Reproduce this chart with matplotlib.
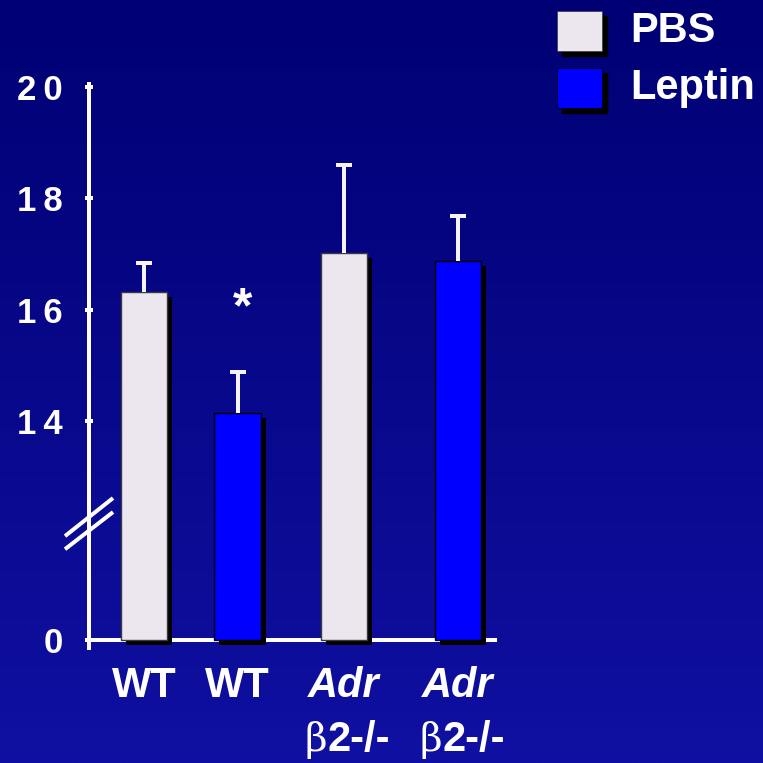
import numpy as np
import matplotlib
matplotlib.use("Agg")
import matplotlib.pyplot as plt
import matplotlib.patheffects as pe

# ---- data ----
groups = ["WT", "WT", "Adr", "Adr"]
genotype_line2 = ["", "", "2-/-", "2-/-"]
treatments = ["PBS", "Leptin", "PBS", "Leptin"]
values = [16.32, 14.14, 17.02, 16.87]
errors = [0.52, 0.74, 1.58, 0.81]
positions = [0.60, 1.61, 2.76, 4.00]
ytick_values = [14, 16, 18, 20]
axis_floor = 10.07          # broken axis: bottom of the axis is labelled 0

colors = {"PBS": "#ece6ee", "Leptin": "#0000ff"}
edges = {"PBS": "#3a3a3a", "Leptin": "#000000"}

W = H = 763
DPI = 100
fig = plt.figure(figsize=(W / DPI, H / DPI), dpi=DPI)

# background gradient
bg = fig.add_axes([0, 0, 1, 1], zorder=-10)
top = np.array([0x00, 0x00, 0x74]) / 255
bot = np.array([0x10, 0x10, 0xa2]) / 255
t = np.linspace(0, 1, 256)[:, None]
grad = top[None, :] * (1 - t) + bot[None, :] * t
bg.imshow(grad[:, None, :], aspect="auto", extent=[0, 1, 0, 1])
bg.set_axis_off()

def px2pt(p):
    return p * 72 / DPI

ax = fig.add_axes([89 / W, (H - 640) / H, (495 - 89) / W, (640 - 83.5) / H])
ax.set_facecolor("none")
ax.set_xlim(0, 4.4)
ax.set_ylim(axis_floor, 20.06)

shadow = [pe.SimplePatchShadow(offset=(px2pt(5), -px2pt(5)), shadow_rgbFace="black", alpha=1.0), pe.Normal()]
for x, v, tr in zip(positions, values, treatments):
    ax.bar(x, v - axis_floor, bottom=axis_floor, width=0.50, color=colors[tr],
           edgecolor=edges[tr], linewidth=1.0, clip_on=False, zorder=3,
           path_effects=shadow)

# upward error bars
err_col = "#f6f2fa"
tops = [v + e for v, e in zip(values, errors)]
ax.vlines(positions, values, tops, colors=err_col, linewidth=px2pt(4), zorder=4)
ax.plot(positions, tops, ls="none", marker="_", ms=px2pt(16), mew=px2pt(4),
        color=err_col, zorder=4)

# axes styling
for s in ["top", "right"]:
    ax.spines[s].set_visible(False)
for s in ["left", "bottom"]:
    ax.spines[s].set_color("white")
    ax.spines[s].set_linewidth(px2pt(4))
    ax.spines[s].set_capstyle("projecting")

# spaced digits for the y tick labels
def spaced(s):
    return "\u2009".join(s)

ax.set_yticks([axis_floor] + ytick_values)
ax.set_yticklabels(["0"] + [spaced(str(v)) for v in ytick_values])
ax.tick_params(axis="y", direction="inout", length=px2pt(8), width=px2pt(4),
               color="white", labelcolor="white", pad=px2pt(22), labelsize=25)
for lab in ax.get_yticklabels():
    lab.set_fontfamily("Liberation Sans")
    lab.set_fontweight("bold")
ax.set_xticks([])

# axis extension below the x axis
ax.plot([0, 0], [axis_floor, axis_floor - 10 / 55.7], color="white",
        lw=px2pt(4), clip_on=False, zorder=5, solid_capstyle="butt")

# axis break marks
tr_break = ax.get_yaxis_transform()
for y0, y1 in [(11.935, 12.618), (11.70, 12.366)]:
    ax.plot([-24 / 406, 24 / 406], [y0, y1], color="white", lw=px2pt(4),
            transform=tr_break, clip_on=False, zorder=6, solid_capstyle="butt")

# significance marker
ax.annotate("*", xy=(positions[1], values[1] + errors[1]), xycoords="data",
            xytext=(px2pt(5), px2pt(63)), textcoords="offset points",
            ha="center", va="center", color="white", fontsize=36,
            fontweight="bold", family="Liberation Sans")

# category labels
lab_kw = dict(xycoords=("data", "axes fraction"), textcoords="offset points",
              color="white", fontsize=30, fontweight="bold", family="Liberation Sans",
              annotation_clip=False)
for x, g, l2 in zip(positions, groups, genotype_line2):
    style = "italic" if g == "Adr" else "normal"
    ax.annotate(g, xy=(x, 0), xytext=(0, -px2pt(46)), ha="center", va="center",
                fontstyle=style, **lab_kw)
    if l2:
        ax.annotate("\u03b2", xy=(x, 0), xytext=(-px2pt(39), -px2pt(100)),
                    ha="left", va="center", xycoords=("data", "axes fraction"),
                    textcoords="offset points", color="white", fontsize=28,
                    family="DejaVu Serif", annotation_clip=False)
        ax.annotate(l2, xy=(x, 0), xytext=(-px2pt(16), -px2pt(100)),
                    ha="left", va="center", **lab_kw)

# legend
leg_ax = fig.add_axes([0, 0, 1, 1], zorder=5)
leg_ax.set_xlim(0, W)
leg_ax.set_ylim(H, 0)
leg_ax.set_axis_off()
for (name, y0) in [("PBS", 11), ("Leptin", 68)]:
    leg_ax.add_patch(plt.Rectangle((562, y0 + 5), 45, 40, color="black"))
    leg_ax.add_patch(plt.Rectangle((557, y0), 45, 40, facecolor=colors[name],
                                   edgecolor=edges[name], lw=0.5))
    leg_ax.text(630, y0 + 20, name, color="white", fontsize=30, fontweight="bold",
                family="Liberation Sans", ha="left", va="center")

fig.savefig("out.png", dpi=DPI)
